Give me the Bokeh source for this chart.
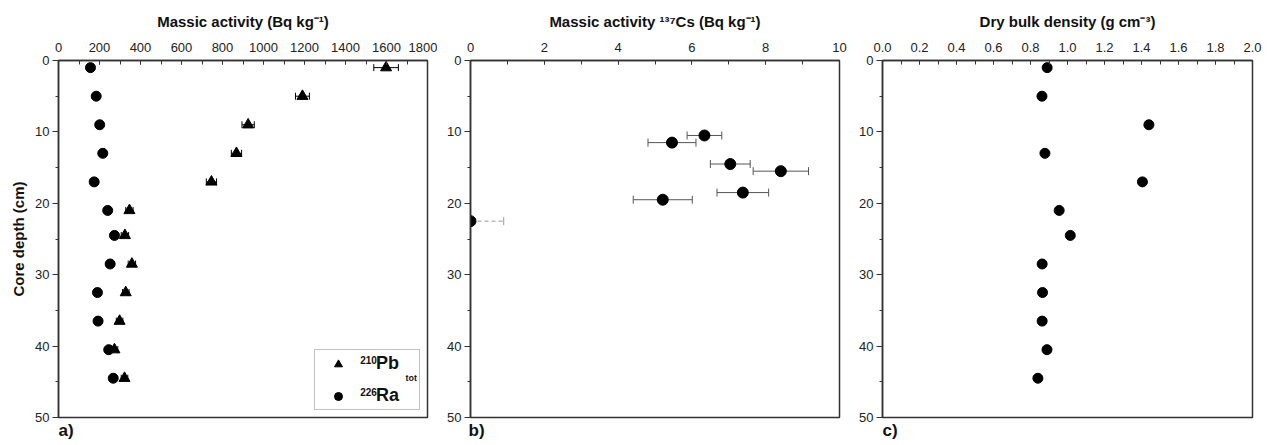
from bokeh.plotting import figure
from bokeh.models import (ColumnDataSource, Whisker, Range1d, SingleIntervalTicker,
                          Legend, LegendItem, TeeHead, PrintfTickFormatter)
from bokeh.core.properties import value
from bokeh.layouts import row
from bokeh.embed import file_html
from bokeh.resources import INLINE

# ---------------- data ----------------
depth_a = [1, 5, 9, 13, 17, 21, 24.5, 28.5, 32.5, 36.5, 40.5, 44.5]
pb210 = [1598, 1190, 925, 868, 746, 346, 324, 358, 328, 298, 273, 322]
pb210_err = [60, 34, 30, 25, 25, 18, 18, 18, 16, 16, 16, 16]
ra226 = [156, 184, 201, 216, 174, 240, 273, 252, 190, 193, 245, 267]
ra226_err = [10, 10, 10, 10, 10, 12, 12, 10, 10, 10, 10, 10]

cs_depth = [10.5, 11.5, 14.5, 15.5, 18.5, 19.5]
cs137 = [6.34, 5.46, 7.04, 8.41, 7.38, 5.21]
cs137_err = [0.47, 0.65, 0.54, 0.75, 0.70, 0.80]
cs_mda_depth = [22.5]
cs_mda = [0.0]
cs_mda_upper = [0.9]

dbd_depth = [1, 5, 9, 13, 17, 21, 24.5, 28.5, 32.5, 36.5, 40.5, 44.5]
dbd = [0.89, 0.862, 1.44, 0.878, 1.405, 0.955, 1.015, 0.863, 0.865, 0.863, 0.889, 0.84]

# legend annotation texts (isotope mass numbers / subscript) and their anchor spots
sup_texts = ["210", "226"]
sup_x = [1553, 1553]
sup_y = [41.9, 46.45]
sub_texts = ["tot"]
sub_x = [1693]
sub_y = [44.45]

FONT = "Liberation Sans"
AX = "#333333"


def make_fig(xmax, interval, fw, bl, br, xlabel, tag, ylabel=None):
    p = figure(frame_width=fw, frame_height=357,
               x_range=Range1d(0, xmax), y_range=Range1d(50, 0),
               x_axis_location="above", toolbar_location=None, output_backend="svg",
               min_border_left=bl, min_border_right=br, min_border_top=60,
               min_border_bottom=26, background_fill_color="white",
               border_fill_color="white", title=tag, title_location="below")
    p.title.align = "left"
    p.title.text_font = FONT
    p.title.text_font_style = "bold"
    p.title.text_font_size = "17px"
    p.title.text_color = "#111111"
    p.title.standoff = 2
    p.xgrid.visible = False
    p.ygrid.visible = False
    p.outline_line_color = AX
    p.outline_line_width = 1.5
    p.outline_line_alpha = 1.0

    xa = p.xaxis[0]
    xa.ticker = SingleIntervalTicker(interval=interval, num_minor_ticks=2)
    xa.major_tick_in = 4
    xa.major_tick_out = 0
    xa.minor_tick_in = 4
    xa.minor_tick_out = 0
    xa.major_label_standoff = 9
    xa.axis_label = xlabel
    xa.axis_label_standoff = 10
    ya = p.yaxis[0]
    ya.ticker = SingleIntervalTicker(interval=10, num_minor_ticks=2)
    ya.major_tick_out = 6
    ya.major_tick_in = 0
    ya.minor_tick_out = 3
    ya.minor_tick_in = 0
    ya.major_label_standoff = 3
    if ylabel:
        ya.axis_label = ylabel
        ya.axis_label_standoff = 5
    for ax in (xa, ya):
        ax.axis_line_color = AX
        ax.axis_line_width = 1.5
        ax.major_tick_line_color = AX
        ax.minor_tick_line_color = AX
        ax.major_label_text_font = FONT
        ax.major_label_text_font_size = "13px"
        ax.major_label_text_color = "#222222"
        ax.axis_label_text_font = FONT
        ax.axis_label_text_font_style = "bold"
        ax.axis_label_text_font_size = "15px"
        ax.axis_label_text_color = "#111111"
    return p


# ---------------- panel a ----------------
pa = make_fig(1800, 200, 369, 58, 10, "Massic activity (Bq kg\u207b\u00b9)", "a)",
              "Core depth (cm)")
src_pb = ColumnDataSource(dict(x=pb210, y=depth_a,
                               lo=[v - e for v, e in zip(pb210, pb210_err)],
                               hi=[v + e for v, e in zip(pb210, pb210_err)]))
src_ra = ColumnDataSource(dict(x=ra226, y=depth_a,
                               lo=[v - e for v, e in zip(ra226, ra226_err)],
                               hi=[v + e for v, e in zip(ra226, ra226_err)]))
for s in (src_pb, src_ra):
    pa.add_layout(Whisker(source=s, base="y", lower="lo", upper="hi", dimension="width",
                          line_color="black", line_width=1,
                          lower_head=TeeHead(size=7, line_color="black", line_width=1),
                          upper_head=TeeHead(size=7, line_color="black", line_width=1)))
r_pb = pa.scatter("x", "y", source=src_pb, marker="triangle", size=11,
                  fill_color="black", line_color="black")
r_ra = pa.scatter("x", "y", source=src_ra, marker="circle", size=10,
                  fill_color="black", line_color="black")
legend = Legend(items=[LegendItem(label="Pb", renderers=[r_pb]),
                       LegendItem(label="Ra", renderers=[r_ra])],
                location="bottom_right", margin=7, padding=3, spacing=11,
                border_line_color="#888888", border_line_width=1,
                label_text_font=FONT, label_text_font_style="bold",
                label_text_font_size="18px", label_text_color="#111111",
                glyph_width=40, glyph_height=20, label_height=20, label_width=40,
                label_standoff=18, background_fill_alpha=0.0)
pa.add_layout(legend)
src_sup = ColumnDataSource(dict(x=sup_x, y=sup_y, t=sup_texts))
pa.text("x", "y", text="t", source=src_sup, text_font=value(FONT),
        text_font_style="bold", text_font_size=value("10px"), text_align="right",
        text_baseline="alphabetic", text_color="#111111")
src_sub = ColumnDataSource(dict(x=sub_x, y=sub_y, t=sub_texts))
pa.text("x", "y", text="t", source=src_sub, text_font=value(FONT),
        text_font_style="bold", text_font_size=value("9px"), text_align="left",
        text_baseline="alphabetic", text_color="#111111")

# ---------------- panel b ----------------
pb = make_fig(10, 2, 369, 33, 10, "Massic activity \u00b9\u00b3\u2077Cs (Bq kg\u207b\u00b9)", "b)")
pb.title.offset = -2
src_cs = ColumnDataSource(dict(x=cs137, y=cs_depth,
                               lo=[v - e for v, e in zip(cs137, cs137_err)],
                               hi=[v + e for v, e in zip(cs137, cs137_err)]))
pb.add_layout(Whisker(source=src_cs, base="y", lower="lo", upper="hi", dimension="width",
                      line_color="#555555", line_width=1,
                      lower_head=TeeHead(size=8, line_color="#555555", line_width=1),
                      upper_head=TeeHead(size=8, line_color="#555555", line_width=1)))
src_mda = ColumnDataSource(dict(x=cs_mda, y=cs_mda_depth, lo=cs_mda, hi=cs_mda_upper))
pb.add_layout(Whisker(source=src_mda, base="y", lower="lo", upper="hi", dimension="width",
                      line_color="#999999", line_width=1, line_dash="4 3",
                      lower_head=None,
                      upper_head=TeeHead(size=8, line_color="#999999", line_width=1)))
pb.scatter("x", "y", source=src_cs, marker="circle", size=11,
           fill_color="black", line_color="black")
pb.scatter("x", "y", source=src_mda, marker="circle", size=11,
           fill_color="black", line_color="black")

# ---------------- panel c ----------------
pc = make_fig(2.0, 0.2, 370, 33, 10, "Dry bulk density (g cm\u207b\u00b3)", "c)")
pc.xaxis[0].formatter = PrintfTickFormatter(format="%.1f")
src_d = ColumnDataSource(dict(x=dbd, y=dbd_depth))
pc.scatter("x", "y", source=src_d, marker="circle", size=10,
           fill_color="black", line_color="black")

layout = row(pa, pb, pc, spacing=0)
open("out.html", "w").write(file_html(layout, INLINE))
